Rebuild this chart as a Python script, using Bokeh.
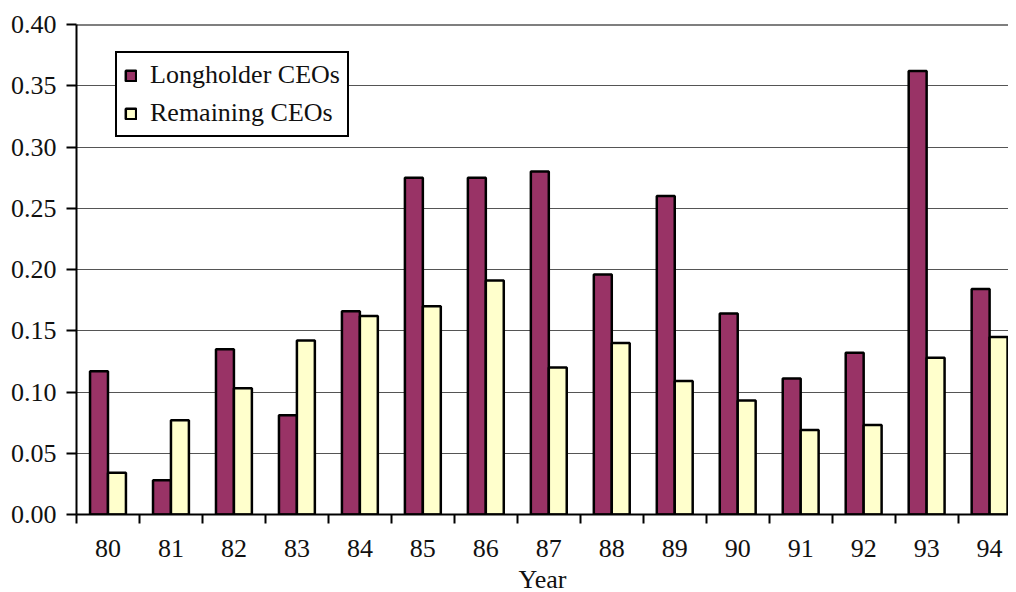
from bokeh.plotting import figure
from bokeh.models import ColumnDataSource, Range1d, FixedTicker, Legend, LegendItem, Span, NumeralTickFormatter
from bokeh.transform import dodge
from bokeh.embed import file_html
from bokeh.resources import INLINE

years = ["80", "81", "82", "83", "84", "85", "86", "87", "88", "89", "90", "91", "92", "93", "94"]
longholder = [0.117, 0.028, 0.135, 0.081, 0.166, 0.275, 0.275, 0.280, 0.196, 0.260, 0.164, 0.111, 0.132, 0.362, 0.184]
remaining = [0.034, 0.077, 0.103, 0.142, 0.162, 0.170, 0.191, 0.120, 0.140, 0.109, 0.093, 0.069, 0.073, 0.128, 0.145]
y_ticks = [0.0, 0.05, 0.10, 0.15, 0.20, 0.25, 0.30, 0.35, 0.40]

FONT = "Liberation Serif"
FS = "26px"
idx = list(range(len(years)))
src = ColumnDataSource(dict(x=idx, lh=longholder, rm=remaining))

p = figure(frame_width=932, frame_height=490, output_backend="svg", toolbar_location=None,
           x_range=Range1d(-0.5, 14.3), y_range=Range1d(0, 0.40),
           min_border_left=76, min_border_right=0, min_border_top=24, min_border_bottom=60)
p.outline_line_color = None
p.background_fill_color = "white"

bw = 0.285
r1 = p.vbar(x=dodge("x", -bw / 2, range=p.x_range), top="lh", width=bw, source=src,
            fill_color="#993366", line_color="black", line_width=2.5)
r2 = p.vbar(x=dodge("x", bw / 2, range=p.x_range), top="rm", width=bw, source=src,
            fill_color="#FFFFCC", line_color="black", line_width=2.5)

# grid
p.xgrid.visible = False
p.ygrid.ticker = FixedTicker(ticks=y_ticks)
p.ygrid.grid_line_color = "#555555"
p.ygrid.grid_line_width = 1
p.add_layout(Span(location=0.40, dimension="width", line_color="black", line_width=2))

# x axis
xa = p.xaxis[0]
xa.ticker = FixedTicker(ticks=idx, minor_ticks=[i - 0.5 for i in range(len(years) + 1)])
xa.major_label_overrides = {i: y for i, y in zip(idx, years)}
xa.major_tick_out = 0
xa.major_tick_in = 0
xa.minor_tick_out = 9
xa.minor_tick_in = 0
xa.minor_tick_line_color = "black"
xa.minor_tick_line_width = 2
xa.axis_line_color = "black"
xa.axis_line_width = 2
xa.major_label_standoff = 16
xa.major_label_text_font = FONT
xa.major_label_text_font_size = FS
xa.major_label_text_color = "#111111"
xa.axis_label = "Year"
xa.axis_label_text_font = FONT
xa.axis_label_text_font_size = FS
xa.axis_label_text_font_style = "normal"
xa.axis_label_text_color = "#111111"
xa.axis_label_standoff = 5

# y axis
ya = p.yaxis[0]
ya.ticker = FixedTicker(ticks=y_ticks)
ya.formatter = NumeralTickFormatter(format="0.00")
ya.major_tick_out = 10
ya.major_tick_in = 0
ya.minor_tick_out = 0
ya.minor_tick_in = 0
ya.major_tick_line_width = 2
ya.axis_line_width = 2
ya.major_label_standoff = 10
ya.major_label_text_font = FONT
ya.major_label_text_font_size = FS
ya.major_label_text_color = "#111111"

legend = Legend(items=[LegendItem(label="Longholder CEOs", renderers=[r1]),
                       LegendItem(label="Remaining CEOs", renderers=[r2])],
                location=(39, 377))
legend.label_text_font = FONT
legend.label_text_font_size = FS
legend.label_text_color = "#111111"
legend.glyph_width = 13
legend.glyph_height = 13
legend.label_height = 28
legend.spacing = 8
legend.padding = 7
legend.margin = 0
legend.label_standoff = 13
legend.border_line_color = "black"
legend.border_line_alpha = 1
legend.border_line_width = 2
legend.background_fill_color = "white"
legend.background_fill_alpha = 1
p.add_layout(legend)

open("out.html", "w").write(file_html(p, INLINE))
